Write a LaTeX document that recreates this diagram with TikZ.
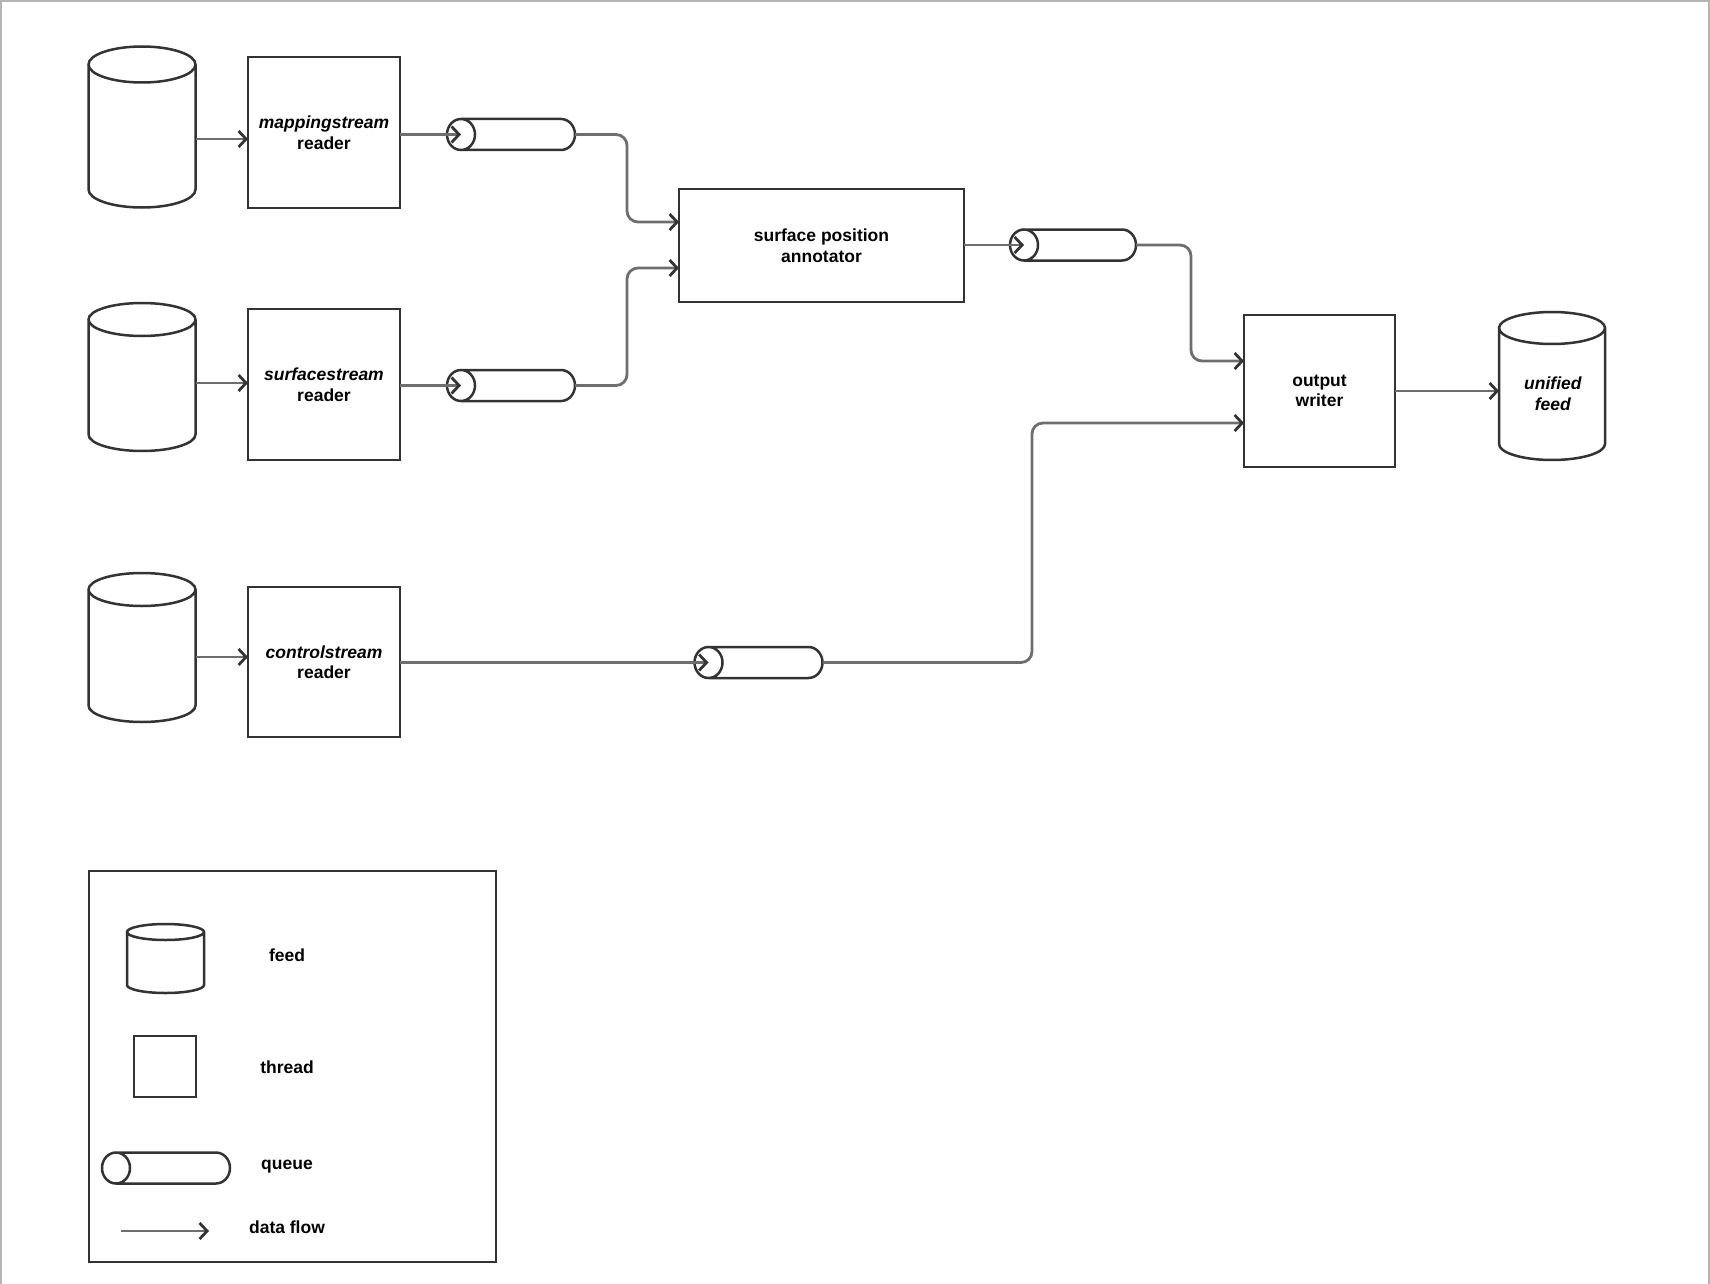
\documentclass[tikz,border=0pt]{standalone}
\usepackage{fontspec}
\setmainfont{Liberation Sans}
\usepackage{xcolor}
\usepackage{tikz}
\usetikzlibrary{arrows.meta}
\usetikzlibrary{positioning}

\definecolor{boxc}{HTML}{333333}
\definecolor{flowc}{HTML}{6E6E6E}
\definecolor{framec}{HTML}{B4B4B4}

\begin{document}
\begin{tikzpicture}[x=1pt, y=-1pt,
                    font=\fontsize{17.5}{20.5}\selectfont\bfseries,
                    every node/.style={align=center, inner sep=0pt, outer sep=0pt},
                    outline/.style={draw=boxc, line width=2.5pt},
                    thread/.style={outline, minimum width=152pt, minimum height=151pt},
                    flow/.style={draw=flowc, line width=2.8pt, rounded corners=11pt,
                                 -{Straight Barb[length=7.5pt, width=16pt, color=boxc]}}]
                \useasboundingbox (0,0) rectangle (1710,1284);
                \draw[framec, line width=2pt] (1,1284) -- (1,1) -- (1709,1) -- (1709,1284);

                % feeds: name/x/y/width/height/cap
                \foreach \f/\cx/\cy/\w/\h/\r in {mapfeed/142/127/107/161/18, surffeed/142/377/107/148/16.5,
                                                 ctrlfeed/142/647.5/107/149/16.5, unifeed/1552/386/106/148/16,
                                                 legfeed/165.5/958.5/77/69/8}
                {
                        \node[minimum width=\w pt, minimum height=\h pt] (\f) at (\cx,\cy) {};
                        \draw[outline] (\cx-\w/2,\cy-\h/2+\r) -- (\cx-\w/2,\cy+\h/2-\r)
                                arc[start angle=180, end angle=360, x radius={\w*0.5pt}, y radius={\r*1pt}]
                                -- (\cx+\w/2,\cy-\h/2+\r)
                                (\cx,\cy-\h/2+\r) ellipse[x radius={\w*0.5pt}, y radius={\r*1pt}];
                }

                % queues: name/x/y/width/cap
                \foreach \q/\cx/\cy/\w/\r in {mapq/511/134.5/128/14, surfq/511/385.5/128/14, ctrlq/758.5/662.5/128/14,
                                              annq/1073/245/126/14, legqueue/166/1168/128/14}
                {
                        \node[minimum width=\w pt, minimum height=31pt] (\q) at (\cx,\cy) {};
                        \draw[outline] (\cx-\w/2+\r,\cy) ellipse[x radius={\r*1pt}, y radius=15.5pt]
                                (\cx-\w/2+\r,\cy-15.5) -- (\cx+\w/2-\r,\cy-15.5)
                                arc[start angle=90, end angle=-90, x radius={\r*1pt}, y radius=15.5pt]
                                -- (\cx-\w/2+\r,\cy+15.5);
                }

                % threads
                \node[thread] (mapreader) at (324,132.5) {\textit{mappingstream}\\reader};
                \node[thread] (surfreader) at (324,384.5) {\textit{surfacestream}\\reader};
                \node[thread, minimum height=150pt] (ctrlreader) at (324,662) {\textit{controlstream}\\reader};
                \node[thread, minimum width=285pt, minimum height=113pt] (annot) at (821.5,245.5) {surface position\\annotator};
                \node[thread, minimum width=151pt, minimum height=152pt] (writer) at (1319.5,391) {output\\writer};
                \node (unifeedtxt) at (1553,393.5) {\textit{unified}\\\textit{feed}};

                \coordinate (bendmap) at (627,222);
                \coordinate (bendsurf) at (627,268);
                \coordinate (bendann) at (1191,361);
                \coordinate (bendctrl) at (1032,423);

                \draw[flow] ([yshift=-12pt]mapfeed.east) -- ([yshift=-12pt]mapfeed.east -| mapreader.west);
                \draw[flow] ([yshift=-6pt]surffeed.east) -- ([yshift=-6pt]surffeed.east -| surfreader.west);
                \draw[flow] ([yshift=-9.5pt]ctrlfeed.east) -- ([yshift=-9.5pt]ctrlfeed.east -| ctrlreader.west);
                \draw[flow] (mapreader.east |- mapq) -- ([xshift=14pt]mapq.west);
                \draw[flow] (surfreader.east |- surfq) -- ([xshift=14pt]surfq.west);
                \draw[flow] (ctrlreader.east |- ctrlq) -- ([xshift=14pt]ctrlq.west);
                \draw[flow] (mapq.east) -| (bendmap) -- (bendmap -| annot.west);
                \draw[flow] (surfq.east) -| (bendsurf) -- (bendsurf -| annot.west);
                \draw[flow] (annot.east |- annq) -- ([xshift=14pt]annq.west);
                \draw[flow] (annq.east) -| (bendann) -- (bendann -| writer.west);
                \draw[flow] (ctrlq.east) -| (bendctrl) -- (bendctrl -| writer.west);
                \draw[flow] (writer.east) -- (writer.east -| unifeed.west);

                % legend
                \node[outline, minimum width=407pt, minimum height=391pt] (legend) at (292.5,1066.5) {};
                \node[outline, minimum width=62pt, minimum height=61pt] (legthread) at (165,1066.5) {};
                \coordinate (legflowa) at (121,1231);
                \coordinate (legflowb) at (209,1231);
                \draw[flow] (legflowa) -- (legflowb);
                \node (legfeedtxt) at (287,955) {feed};
                \node (legthreadtxt) at (287,1067) {thread};
                \node (legqueuetxt) at (287,1167) {queue};
                \node (legflowtxt) at (287,1227) {data flow};
\end{tikzpicture}
\end{document}
